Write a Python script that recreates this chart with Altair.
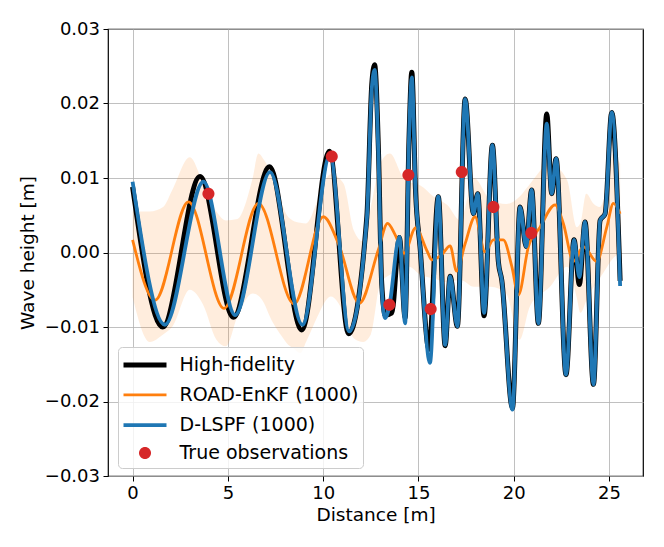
import altair as alt
import pandas as pd

# ---- data ----
hf_x = [0, 1.58, 3.54, 5.29, 7.18, 8.88, 10.33, 11.33, 12.29, 12.55, 12.70, 12.9, 13.07, 13.26, 13.6,
        14.0, 14.3, 14.5, 14.65, 14.85, 15.08, 15.55, 16.04, 16.4, 16.66, 17.04, 17.45, 17.88, 18.11,
        18.44, 18.88, 19.19, 19.37, 19.93, 20.33, 20.65, 20.94, 21.29, 21.73, 21.99, 22.22, 22.74,
        23.16, 23.44, 23.74, 24.18, 24.53, 24.79, 25.14, 25.58]
hf_y = [0.0088, -0.0100, 0.0102, -0.0087, 0.0115, -0.0104, 0.0136, -0.0109, 0.0048, 0.0226, 0.0252,
        0.0137, -0.0041, -0.0084, -0.0081, 0.0020, -0.0088, 0.0150, 0.0242, 0.0080, 0.0008, -0.0130,
        0.0075, -0.0125, -0.0032, -0.0099, 0.0206, 0.0052, 0.0079, -0.0085, 0.0144, -0.0012, -0.0037,
        -0.0209, 0.0061, 0.0008, 0.0084, -0.0095, 0.0186, 0.0079, 0.0126, -0.0164, 0.0017, -0.0043,
        0.0041, -0.0177, 0.0043, 0.0052, 0.0188, -0.0038]

dl_x = [0, 1.7, 3.72, 5.38, 7.21, 8.91, 10.36, 11.36, 12.29, 12.55, 12.70, 12.9, 13.07, 13.24, 13.45,
        14.0, 14.3, 14.5, 14.65, 14.85, 15.08, 15.6, 16.04, 16.4, 16.66, 17.04, 17.45, 17.88, 18.11,
        18.44, 18.88, 19.19, 19.37, 19.93, 20.33, 20.65, 20.94, 21.29, 21.73, 21.99, 22.22, 22.74,
        23.16, 23.44, 23.74, 24.18, 24.53, 24.79, 25.14, 25.58]
dl_y = [0.0095, -0.0097, 0.0095, -0.0084, 0.0108, -0.0097, 0.0130, -0.0106, 0.0045, 0.0220, 0.0245,
        0.0130, -0.0045, -0.0088, -0.0075, 0.0021, -0.0095, 0.0150, 0.0235, 0.0080, 0.0008, -0.0148,
        0.0075, -0.0124, -0.0032, -0.0099, 0.0206, 0.0052, 0.0079, -0.0081, 0.0144, -0.0012, -0.0037,
        -0.0211, 0.0061, 0.0008, 0.0084, -0.0095, 0.0173, 0.0079, 0.0126, -0.0164, 0.0017, -0.0033,
        0.0041, -0.0177, 0.0043, 0.0052, 0.0188, -0.0045]

enkf_x = [0, 1.18, 2.93, 4.80, 6.60, 8.47, 10.01, 10.8, 11.9, 12.9, 13.38, 13.77, 14.25, 14.85, 15.45,
          15.7, 16.22, 16.66, 17.0, 17.45, 17.97, 18.49, 18.93, 19.45, 19.9, 20.24, 20.77, 21.38,
          22.17, 22.6, 23.13, 23.65, 24.35, 24.88, 25.23, 25.58]
enkf_y = [0.0017, -0.0064, 0.0068, -0.0075, 0.0066, -0.0069, 0.0048, 0.0012, -0.0068, 0.0004, 0.0039,
          0.0024, -0.0001, 0.0033, 0.0002, -0.0010, -0.0003, 0.0009, -0.0025, 0.0012, 0.0048, 0.0001,
          0.0017, 0.0017, -0.0019, -0.0057, 0.0008, 0.0034, 0.0064, 0.0039, -0.0012, 0.0008, -0.0012,
          0.0034, 0.0066, 0.0052]

band_x = [0, 0.9, 1.6, 2.1, 3.0, 3.7, 4.4, 4.9, 5.5, 6.3, 6.6, 6.9, 7.2, 7.9, 8.1, 8.4, 8.8, 9.1, 9.7,
          9.9, 10.4, 11.06, 11.6, 12.1, 12.5, 13.0, 13.5, 14.2, 14.5, 15.1, 15.8, 16.5, 17.2, 17.9,
          18.8, 19.6, 20.3, 20.85, 21.9, 22.8, 23.3, 23.5, 23.8, 24.2, 24.5, 24.9, 25.2, 25.58]
band_hi = [0.0055, 0.0055, 0.0061, 0.0085, 0.0128, 0.0093, 0.0055, 0.0043, 0.0045, 0.0100, 0.0133,
           0.0124, 0.0110, 0.0061, 0.0050, 0.0043, 0.0040, 0.0039, 0.0070, 0.0084, 0.0105, 0.0093,
           0.0030, 0.0015, 0.0060, 0.0120, 0.0133, 0.0101, 0.0095, 0.0090, 0.0075, 0.0064, 0.0043,
           0.0100, 0.0070, 0.0065, 0.0075, 0.0092, 0.0119, 0.0097, 0.0034, 0.0040, 0.0079, 0.0065,
           0.0061, 0.0090, 0.0133, 0.0119]
band_lo = [-0.0060, -0.0120, -0.0110, -0.0099, -0.0050, -0.0070, -0.0117, -0.0126, -0.0086, -0.0055,
           -0.0058, -0.0068, -0.0086, -0.0115, -0.0122, -0.0128, -0.0135, -0.0120, -0.0086, -0.0075,
           -0.0059, -0.0080, -0.0115, -0.0120, -0.0110, -0.0041, -0.0030, -0.0020, -0.0019, -0.0030,
           -0.0035, -0.0040, -0.0037, -0.0046, -0.0046, -0.0055, -0.0117, -0.0072, -0.0046, -0.0019,
           -0.0060, -0.0081, -0.0065, -0.0046, -0.0035, -0.0019, -0.0008, -0.0001]

obs_x = [3.98, 10.45, 13.47, 14.47, 15.64, 17.27, 18.93, 20.92]
obs_y = [0.0079, 0.0129, -0.0070, 0.0104, -0.0076, 0.0108, 0.0061, 0.0026]

series_names = ["High-fidelity", "ROAD-EnKF (1000)", "D-LSPF (1000)", "True observations"]
series_colors = ["#000000", "#ff7f0e", "#1f77b4", "#d62728"]
series_widths = [5, 2.8, 3.8, 0]
x_ticks = [0, 5, 10, 15, 20, 25]
y_ticks = [-0.03, -0.02, -0.01, 0.0, 0.01, 0.02, 0.03]

FONT = "DejaVu Sans"
SYM = 462  # symbol size shared by legend and observation markers
LINE_PATH = "M-2,0H2"
DOT_PATH = "M0.56,0A0.56,0.56,0,1,1,-0.56,0A0.56,0.56,0,1,1,0.56,0Z"

hf = pd.DataFrame({"x": hf_x, "y": hf_y})
dl = pd.DataFrame({"x": dl_x, "y": dl_y})
enkf = pd.DataFrame({"x": enkf_x, "y": enkf_y})
band = pd.DataFrame({"x": band_x, "hi": band_hi, "lo": band_lo})
obs = pd.DataFrame({"x": obs_x, "y": obs_y, "series": "True observations"})

xs = alt.Scale(domain=[-1.29, 26.78], nice=False, zero=False)
ys = alt.Scale(domain=[-0.03, 0.03], nice=False)

xax = alt.Axis(values=x_ticks, format="d", title="Distance [m]")
yax = alt.Axis(values=y_ticks, format=".2f", title="Wave height [m]")

X = alt.X("x:Q", scale=xs, axis=xax)
Y = alt.Y("y:Q", scale=ys, axis=yax)

band_layer = alt.Chart(band).mark_area(color="#ff7f0e", opacity=0.14, interpolate="monotone").encode(
    x=X, y=alt.Y("hi:Q", scale=ys, axis=yax), y2="lo:Q")

hf_layer = alt.Chart(hf).mark_line(color="black", strokeWidth=5, interpolate="monotone").encode(x=X, y=Y)
enkf_layer = alt.Chart(enkf).mark_line(color="#ff7f0e", strokeWidth=2.8, interpolate="monotone").encode(x=X, y=Y)
dl_layer = alt.Chart(dl).mark_line(color="#1f77b4", strokeWidth=3.8, interpolate="monotone").encode(x=X, y=Y)

leg = alt.Legend(title=None, orient="none", legendX=10, legendY=318)
obs_layer = alt.Chart(obs).mark_point(filled=True, opacity=1, size=SYM).encode(
    x=X, y=Y,
    color=alt.Color("series:N", scale=alt.Scale(domain=series_names, range=series_colors), legend=leg),
    stroke=alt.Stroke("series:N", scale=alt.Scale(domain=series_names, range=series_colors), legend=leg),
    shape=alt.Shape("series:N", scale=alt.Scale(domain=series_names,
                                                range=[LINE_PATH, LINE_PATH, LINE_PATH, DOT_PATH]), legend=leg),
    strokeWidth=alt.StrokeWidth("series:N", scale=alt.Scale(type="ordinal", domain=series_names,
                                                            range=series_widths), legend=leg),
)

chart = alt.layer(band_layer, hf_layer, enkf_layer, dl_layer, obs_layer).properties(
    width=535, height=447,
    autosize=alt.AutoSizeParams(type="none"),
    padding={"left": 100, "top": 21, "right": 13, "bottom": 60},
).configure_view(stroke="black", strokeWidth=1.2).configure_axis(
    labelFont=FONT, titleFont=FONT, labelFontSize=18, titleFontSize=18.5,
    labelColor="black", titleColor="black", titleFontWeight="normal",
    domain=False, tickColor="black", tickSize=5, tickWidth=1,
    gridColor="#b0b0b0", gridWidth=1, gridOpacity=0.8, labelPadding=3.5,
).configure_axisY(titlePadding=7).configure_axisX(titlePadding=3).configure_legend(
    labelFont=FONT, labelFontSize=19, labelColor="black", labelLimit=0,
    fillColor="rgba(255,255,255,0.8)", strokeColor="#cccccc", cornerRadius=4, padding=4.5,
    rowPadding=6.8, labelOffset=21, symbolOffset=9, symbolSize=SYM, symbolOpacity=1,
)

chart.save("out.html", embed_options={"renderer": "svg", "actions": False})
